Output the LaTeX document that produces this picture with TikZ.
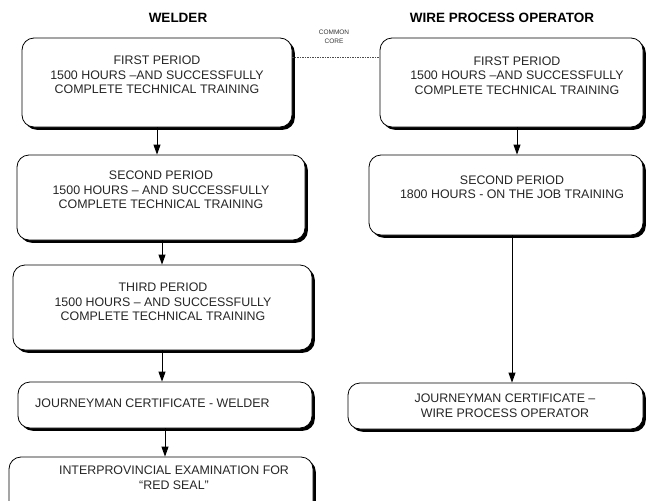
\documentclass[tikz,border=0pt]{standalone}
\usepackage{fontspec}
\setmainfont{Liberation Sans}
\usetikzlibrary{shadows,arrows.meta}
\begin{document}
\begin{tikzpicture}[x=1pt,y=-1pt,
  box/.style={draw=black, line width=0.8pt, rounded corners=12pt, fill=white,
    inner sep=0pt,
    drop shadow={shadow xshift=2.8pt, shadow yshift=-2.8pt, opacity=1, fill=black}},
  txt/.style={align=center, inner sep=0pt, text=black!85,
    font=\fontsize{12.4}{14.5}\selectfont},
  heading/.style={inner sep=0pt, font=\bfseries\fontsize{13.5}{16}\selectfont},
  arr/.style={line width=0.9pt, -{Triangle[length=10pt,width=7pt]}},
  link/.style={line width=0.9pt}]
\useasboundingbox (0,0) rectangle (646,501);
\clip (0,0) rectangle (646,501);

% column headings
\node[heading] (hw) at (178,18) {WELDER};
\node[heading] (hp) at (502,18) {WIRE PROCESS OPERATOR};
\node[align=center, inner sep=0pt, text=black!80,
  font=\fontsize{6.5}{8.5}\selectfont] (cc) at (334,37) {COMMON\\CORE};

% welder boxes
\node[box, minimum width=270pt, minimum height=89pt] (w1) at (157,82.5) {};
\node[box, minimum width=288pt, minimum height=85pt] (w2) at (161,197.5) {};
\node[box, minimum width=299pt, minimum height=85pt] (w3) at (162.5,307.5) {};
\node[box, minimum width=294pt, minimum height=46pt] (w4) at (165,405) {};
\node[box, minimum width=304pt, minimum height=56pt] (w5) at (161,485) {};

% wire process operator boxes
\node[box, minimum width=263pt, minimum height=89pt] (p1) at (511.5,82.5) {};
\node[box, minimum width=274pt, minimum height=80pt] (p2) at (506,195) {};
\node[box, minimum width=295pt, minimum height=46pt] (p4) at (495.5,406) {};

% box texts
\node[txt] (w1t) at (157,75) {FIRST PERIOD\\1500 HOURS --AND SUCCESSFULLY\\COMPLETE TECHNICAL TRAINING};
\node[txt] (w2t) at (161,190) {SECOND PERIOD\\1500 HOURS -- AND SUCCESSFULLY\\COMPLETE TECHNICAL TRAINING};
\node[txt] (w3t) at (163,302) {THIRD PERIOD\\1500 HOURS -- AND SUCCESSFULLY\\COMPLETE TECHNICAL TRAINING};
\node[txt, anchor=west] (w4t) at (35,403) {JOURNEYMAN CERTIFICATE - WELDER};
\node[txt] (w5t) at (174,477.5) {INTERPROVINCIAL EXAMINATION FOR\\``RED SEAL''};
\node[txt] (p1t) at (517,75.5) {FIRST PERIOD\\1500 HOURS --AND SUCCESSFULLY\\COMPLETE TECHNICAL TRAINING};
\node[txt] (p2t) at (512,187) {SECOND PERIOD\\1800 HOURS - ON THE JOB TRAINING};
\node[txt] (p4t) at (505,405.5) {JOURNEYMAN CERTIFICATE --\\WIRE PROCESS OPERATOR};

% common core link
\draw[black!70, line width=0.6pt, dash pattern=on 1.5pt off 1pt]
  ([yshift=25.5pt]w1.east) -- ([yshift=25.5pt]p1.west);

% progression arrows
\draw[arr] (w1.south -| 157,0) -- (w2.north -| 157,0);
\draw[arr] (w2.south -| 162,0) -- (w3.north -| 162,0);
\draw[arr] (w3.south -| 162,0) -- (w4.north -| 162,0);
\draw[arr] (w4.south -| 165,0) -- (w5.north -| 165,0);
\draw[arr] (p1.south -| 517,0) -- (p2.north -| 517,0);
\draw[arr] (p2.south -| 512,0) -- (p4.north -| 512,0);
\end{tikzpicture}
\end{document}
